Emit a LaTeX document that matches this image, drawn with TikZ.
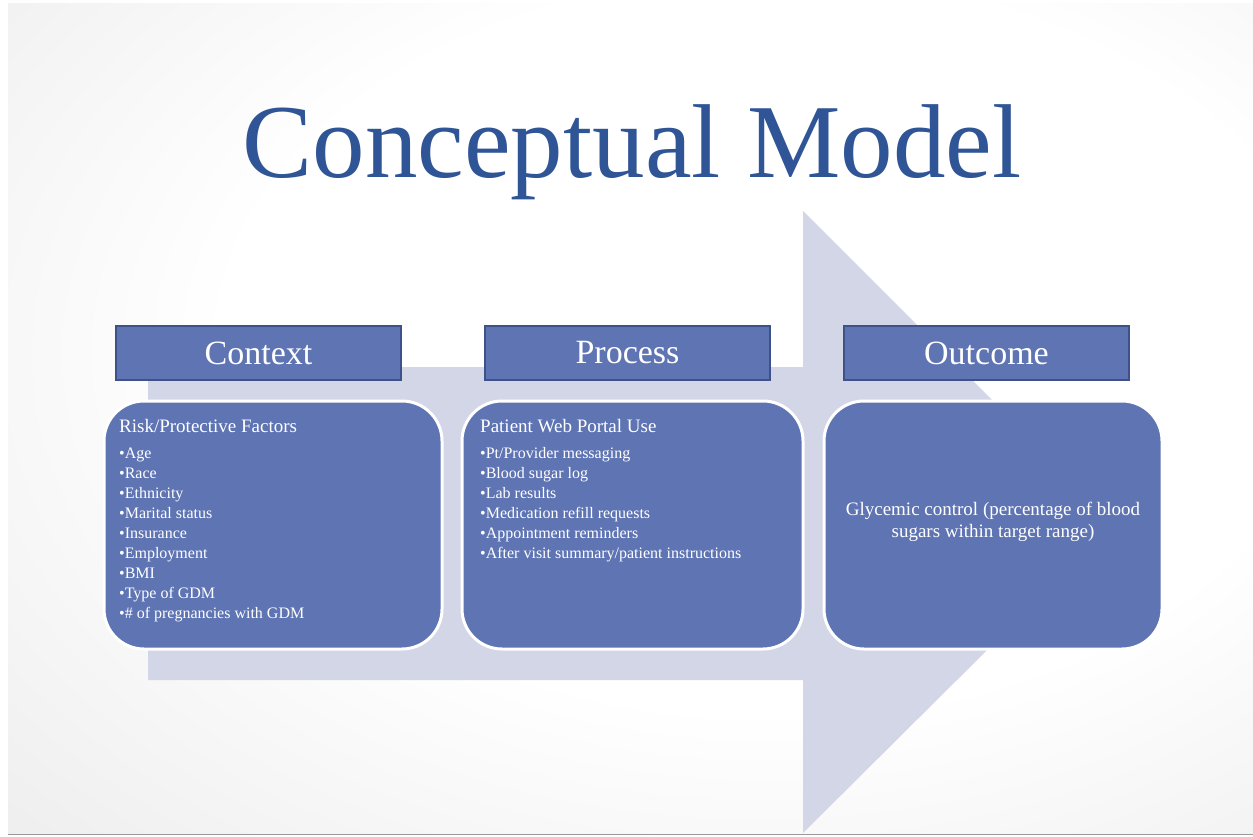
\documentclass[tikz,border=0pt]{standalone}
\usepackage{fontspec}
\setmainfont{Liberation Serif}
\definecolor{boxblue}{HTML}{5F74B3}
\definecolor{hdrline}{HTML}{3F5189}
\definecolor{arrowgray}{HTML}{D3D6E6}
\definecolor{titleblue}{HTML}{2F5597}
\pgfdeclareradialshading{slidebg}{\pgfpoint{8bp}{6bp}}{color(0bp)=(white); color(22bp)=(white); color(50bp)=(black!10); color(80bp)=(black!18)}
\begin{document}
\begin{tikzpicture}[x=1pt,y=-1pt,
  hdr/.style={draw=hdrline, fill=boxblue, line width=2.5pt, minimum width=285pt, minimum height=54pt, inner sep=0pt, text=white, font=\fontsize{34}{38}\selectfont},
  card/.style={draw=white, fill=boxblue, line width=3pt, rounded corners=40pt, minimum width=338pt, minimum height=248pt, inner sep=0pt},
  head/.style={anchor=base west, inner sep=0pt, text=white, font=\fontsize{19}{21}\selectfont},
  item/.style={anchor=base west, inner sep=0pt, text=white, font=\fontsize{16}{18}\selectfont},
  outtxt/.style={align=center, inner sep=0pt, text=white, font=\fontsize{19}{22}\selectfont},
  ttl/.style={inner sep=0pt, anchor=base, font=\fontsize{105}{110}\selectfont}]
\useasboundingbox (0,0) rectangle (1253,837);
\fill[white] (0,0) rectangle (1253,837);
\shade[shading=slidebg] (8,4) rectangle (1253,833);
\draw[black!40, line width=1pt] (8,834) -- (1253,834);
% big arrow
\fill[arrowgray] (148,367) -- (803,367) -- (803,211) -- (1115,523) -- (803,833) -- (803,680) -- (148,680) -- cycle;
% title
\node[ttl, text=titleblue] (title) at (632,178) {Conceptual Model};
% headers
\node[hdr] (hctx) at (258.5,353) {Context};
\node[hdr] (hproc) at (627.5,353) {Process};
\node[hdr] (hout) at (986.5,353) {Outcome};
% cards
\node[card] (cctx) at (273,525) {};
\node[card, minimum width=341pt] (cproc) at (632.5,525) {};
\node[card] (cout) at (993,525) {};
% context text
\node[head] (ctxh) at (119,432) {Risk/Protective Factors};
\node[item] (c1) at (119,458) {•Age};
\node[item] (c2) at (119,478) {•Race};
\node[item] (c3) at (119,498) {•Ethnicity};
\node[item] (c4) at (119,518) {•Marital status};
\node[item] (c5) at (119,538) {•Insurance};
\node[item] (c6) at (119,558) {•Employment};
\node[item] (c7) at (119,578) {•BMI};
\node[item] (c8) at (119,598) {•Type of GDM};
\node[item] (c9) at (119,618) {•\# of pregnancies with GDM};
% process text
\node[head] (proch) at (480,432) {Patient Web Portal Use};
\node[item] (p1) at (480,458) {•Pt/Provider messaging};
\node[item] (p2) at (480,478) {•Blood sugar log};
\node[item] (p3) at (480,498) {•Lab results};
\node[item] (p4) at (480,518) {•Medication refill requests};
\node[item] (p5) at (480,538) {•Appointment reminders};
\node[item] (p6) at (480,558) {•After visit summary/patient instructions};
% outcome text
\node[outtxt] (otxt) at (993,522) {Glycemic control (percentage of blood\\sugars within target range)};
\end{tikzpicture}
\end{document}
